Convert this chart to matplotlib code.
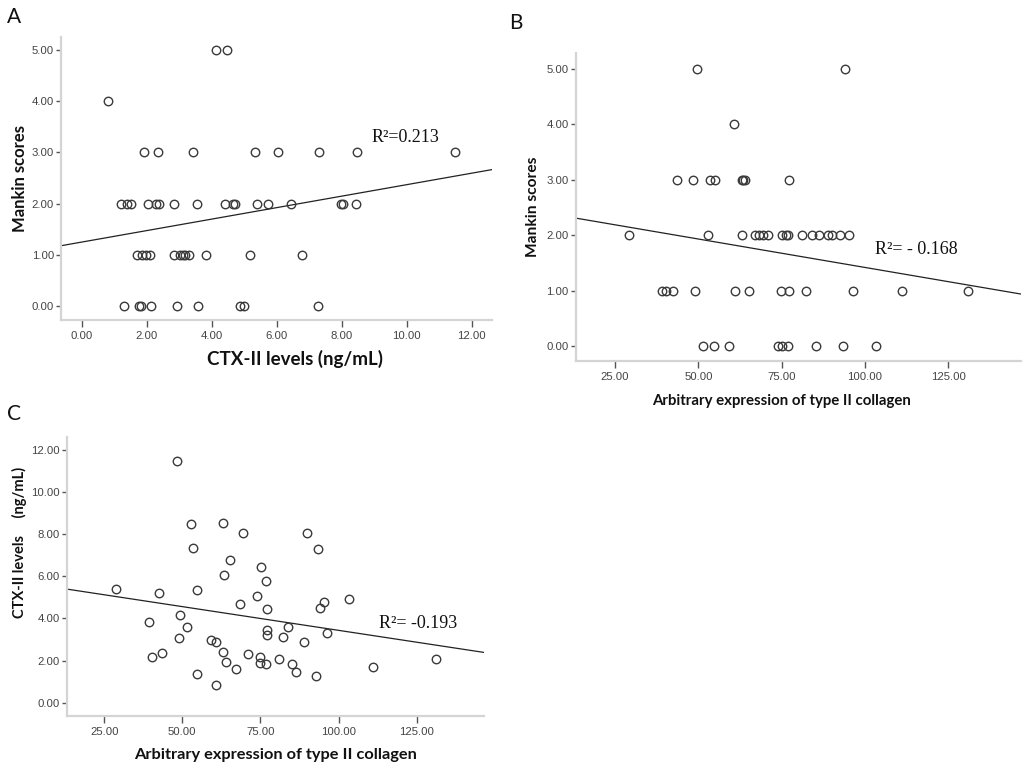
import numpy as np
import matplotlib
matplotlib.use("Agg")
import matplotlib.pyplot as plt
from matplotlib.ticker import FormatStrFormatter

# panel A: CTX-II (ng/mL) vs Mankin score
a_ctx = [4.13, 4.46,
         0.79,
         1.92, 2.35, 3.42, 5.33, 6.02, 7.30, 8.47, 11.49,
         1.20, 1.40, 1.51, 2.05, 2.28, 2.38, 2.84, 3.54, 4.41, 4.65, 4.72,
         5.38, 5.72, 6.43, 7.98, 8.05, 8.44,
         1.69, 1.85, 1.98, 2.10, 2.84, 3.02, 3.11, 3.18, 3.31, 3.82, 5.18, 6.77,
         1.31, 1.77, 1.82, 2.13, 2.92, 3.57, 4.87, 5.00, 7.28]
a_mankin = [5, 5,
            4,
            3, 3, 3, 3, 3, 3, 3, 3,
            2, 2, 2, 2, 2, 2, 2, 2, 2, 2, 2, 2, 2, 2, 2, 2, 2,
            1, 1, 1, 1, 1, 1, 1, 1, 1, 1, 1, 1,
            0, 0, 0, 0, 0, 0, 0, 0, 0]

# panel B: type II collagen expression vs Mankin score
b_col2 = [49.5, 94.0,
          60.8,
          43.5, 48.3, 53.5, 55.0, 63.0, 63.5, 64.0, 77.3,
          29.2, 53.0, 63.2, 67.0, 68.2, 69.5, 71.0, 75.0, 76.3, 77.0, 81.0,
          84.0, 86.3, 89.0, 90.0, 92.5, 95.3,
          39.0, 40.3, 42.5, 49.0, 61.0, 65.3, 74.7, 77.3, 82.3, 96.3, 111.1, 131.0,
          51.5, 54.8, 59.3, 74.0, 75.0, 77.0, 85.2, 93.3, 103.3]
b_mankin = [5, 5,
            4,
            3, 3, 3, 3, 3, 3, 3, 3,
            2, 2, 2, 2, 2, 2, 2, 2, 2, 2, 2, 2, 2, 2, 2, 2, 2,
            1, 1, 1, 1, 1, 1, 1, 1, 1, 1, 1, 1,
            0, 0, 0, 0, 0, 0, 0, 0, 0]

# panel C: type II collagen expression vs CTX-II
c_col2 = [28.8, 39.2, 40.2, 42.4, 43.4, 48.2, 48.8, 49.2, 51.6, 52.8, 53.5,
          54.8, 54.8, 59.1, 60.9, 60.7, 63.1, 63.2, 63.1, 63.9, 65.3, 67.3,
          68.5, 69.5, 70.9, 73.9, 75.1, 74.9, 74.8, 76.7, 76.8, 77.1, 77.1,
          77.1, 80.9, 82.3, 83.9, 85.2, 86.3, 88.9, 90.0, 92.7, 93.5, 94.0,
          95.3, 96.4, 103.3, 111.1, 131.2]
c_ctx = [5.40, 3.85, 2.15, 5.19, 2.37, 11.50, 3.09, 4.18, 3.60, 8.47, 7.33,
         5.36, 1.35, 2.96, 2.90, 0.83, 8.52, 6.06, 2.42, 1.95, 6.80, 1.58,
         4.70, 8.07, 2.31, 5.05, 6.46, 2.18, 1.90, 5.77, 1.84, 4.46, 3.47,
         3.20, 2.07, 3.13, 3.59, 1.84, 1.46, 2.87, 8.04, 1.28, 7.30, 4.51,
         4.77, 3.32, 4.91, 1.71, 2.06]

# fitted lines as drawn (intercept, slope)
fit_a = (1.25, 0.112)
fit_b = (2.445, -0.01025)
fit_c = (5.69, -0.02253)

r2_a = "R\u00b2=0.213"
r2_b = "R\u00b2= - 0.168"
r2_c = "R\u00b2= -0.193"

SPINE = "#d4d4d4"
TICK = "#555555"
PT = "#3a3a3a"


def style_axes(ax, xlim, ylim, xticks, yticks):
    ax.set_xlim(*xlim)
    ax.set_ylim(*ylim)
    ax.set_xticks(xticks)
    ax.set_yticks(yticks)
    ax.xaxis.set_major_formatter(FormatStrFormatter("%.2f"))
    ax.yaxis.set_major_formatter(FormatStrFormatter("%.2f"))
    for s in ["top", "right"]:
        ax.spines[s].set_visible(False)
    for s in ["left", "bottom"]:
        ax.spines[s].set_color(SPINE)
        ax.spines[s].set_linewidth(1.6)
    ax.tick_params(axis="x", direction="out", length=5, width=1.0,
                   color=TICK, labelsize=8.2, labelcolor="#444444", pad=3)
    ax.tick_params(axis="y", direction="out", length=3.5, width=1.0,
                   color=TICK, labelsize=8.2, labelcolor="#444444", pad=1.5)
    for lab in ax.get_xticklabels() + ax.get_yticklabels():
        lab.set_family("Liberation Sans")


def scatter_fit(ax, x, y, fit):
    ax.plot(x, y, linestyle="none", marker="o", markersize=6.1,
            markerfacecolor="none", markeredgecolor=PT,
            markeredgewidth=1.0, zorder=3)
    x0, x1 = ax.get_xlim()
    xs = np.array([x0, x1])
    ax.plot(xs, fit[0] + fit[1] * xs, color="#222222", linewidth=0.9,
            zorder=2)


def lab(size):
    return dict(family="Lato", weight="bold", size=size, color="#111111")


fig = plt.figure(figsize=(10.24, 7.69), dpi=100)
serif = dict(family="Liberation Serif", size=13, color="#111111")

axA = fig.add_axes([0.0596, 0.5839, 0.4209, 0.368])
style_axes(axA, (-0.64, 12.62), (-0.27, 5.25),
           [0, 2, 4, 6, 8, 10, 12], [0, 1, 2, 3, 4, 5])
scatter_fit(axA, a_ctx, a_mankin, fit_a)
axA.set_xlabel("CTX-II levels (ng/mL)", labelpad=6, **lab(13.5))
axA.xaxis.label.set_x(0.543)
axA.set_ylabel("Mankin scores", labelpad=3, **lab(12))
axA.text(8.92, 3.28, r2_a, va="center", ha="left", **serif)

axB = fig.add_axes([0.5622, 0.5310, 0.4349, 0.3997])
style_axes(axB, (13.2, 146.8), (-0.26, 5.28),
           [25, 50, 75, 100, 125], [0, 1, 2, 3, 4, 5])
scatter_fit(axB, b_col2, b_mankin, fit_b)
axB.set_xlabel("Arbitrary expression of type II collagen", labelpad=9,
               **lab(10.8))
axB.xaxis.label.set_x(0.463)
axB.set_ylabel("Mankin scores", labelpad=5, **lab(11.2))
axB.text(103, 1.75, r2_b, va="center", ha="left", **serif)

axC = fig.add_axes([0.0651, 0.0689, 0.4078, 0.3632])
style_axes(axC, (13.0, 146.6), (-0.63, 12.63),
           [25, 50, 75, 100, 125], [0, 2, 4, 6, 8, 10, 12])
scatter_fit(axC, c_col2, c_ctx, fit_c)
axC.set_xlabel("Arbitrary expression of type II collagen", labelpad=8,
               **lab(11.8))
axC.set_ylabel("CTX-II levels     (ng/mL)", labelpad=3, **lab(10.5))
axC.yaxis.label.set_y(0.623)
axC.text(113.0, 3.74, r2_c, va="center", ha="left", **serif)

letter = dict(family="Lato", size=15, color="#111111", va="center",
              ha="center")
fig.text(14 / 1024, 1 - 17 / 769, "A", **letter)
fig.text(516 / 1024, 1 - 23 / 769, "B", **letter)
fig.text(14 / 1024, 1 - 414 / 769, "C", **letter)

fig.savefig("out.png", dpi=100)
